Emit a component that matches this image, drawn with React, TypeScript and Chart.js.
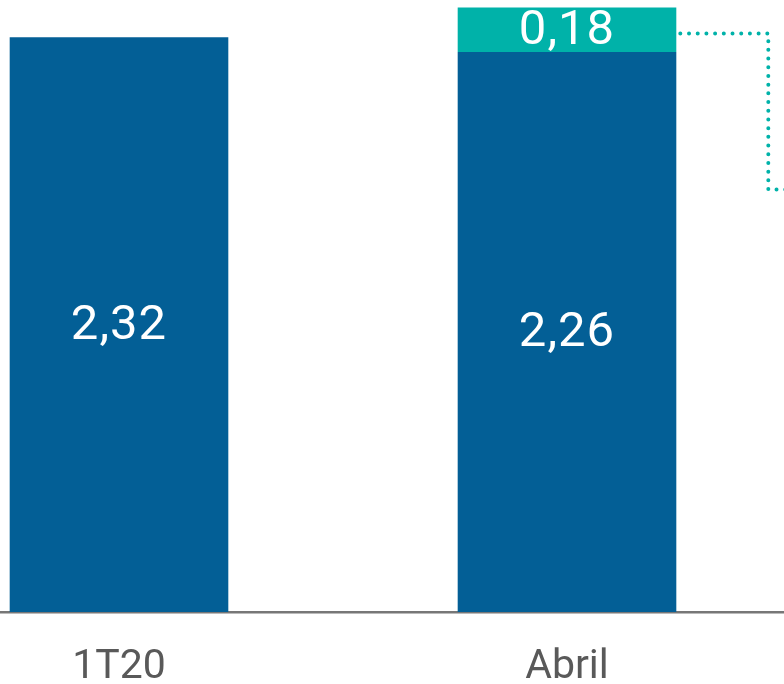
import React, { useEffect, useRef } from "react";
import { Chart, registerables } from "chart.js";

Chart.register(...registerables);

const categories = ["1T20", "Abril"];
const baseValues = [2.32, 2.26];
const topValues = [null, 0.18];
const connectorLevels = [2.335, 1.705];

const BLUE = "#035f96";
const TEAL = "#00b2a9";

const fmt = (v: number) => v.toFixed(2).replace(".", ",");

const labelPlugin = {
  id: "barLabels",
  afterDatasetsDraw(chart: any) {
    const ctx = chart.ctx;
    ctx.save();
    ctx.fillStyle = "#ffffff";
    ctx.font = "49px Roboto";
    ctx.textAlign = "center";
    ctx.textBaseline = "middle";
    try {
      (ctx as any).letterSpacing = "1px";
    } catch (e) {}
    chart.data.datasets.forEach((ds: any, di: number) => {
      const meta = chart.getDatasetMeta(di);
      meta.data.forEach((bar: any, i: number) => {
        const v = ds.data[i];
        if (v === null || v === undefined) return;
        const p = bar.getProps(["x", "y", "base"], true);
        ctx.fillText(fmt(v), p.x, (p.y + p.base) / 2 + 2);
      });
    });
    ctx.restore();
  },
};

const connectorPlugin = {
  id: "connector",
  afterDatasetsDraw(chart: any) {
    const ctx = chart.ctx;
    const meta = chart.getDatasetMeta(1);
    const bar: any = meta.data[1];
    if (!bar) return;
    const p = bar.getProps(["x", "width"], true);
    const y = chart.scales.y;
    const x0 = p.x + p.width / 2 + 4;
    const x1 = x0 + 88;
    const y0 = y.getPixelForValue(connectorLevels[0]);
    const y1 = y.getPixelForValue(connectorLevels[1]);
    ctx.save();
    ctx.strokeStyle = TEAL;
    ctx.lineWidth = 4;
    ctx.lineCap = "round";
    ctx.setLineDash([0, 8.7]);
    ctx.beginPath();
    ctx.moveTo(x0, y0);
    ctx.lineTo(x1, y0);
    ctx.lineTo(x1, y1);
    ctx.lineTo(chart.width, y1);
    ctx.stroke();
    ctx.restore();
  },
};

export default function App() {
  const ref = useRef<HTMLCanvasElement>(null);
  useEffect(() => {
    if (!ref.current) return;
    const chart = new Chart(ref.current, {
      type: "bar",
      data: {
        labels: categories,
        datasets: [
          {
            data: baseValues,
            backgroundColor: BLUE,
            borderWidth: 0,
            barPercentage: 0.488,
            categoryPercentage: 1,
          },
          {
            data: topValues as any,
            backgroundColor: TEAL,
            borderWidth: 0,
            barPercentage: 0.488,
            categoryPercentage: 1,
          },
        ],
      },
      options: {
        animation: false,
        responsive: false,
        maintainAspectRatio: false,
        layout: { padding: 0 },
        plugins: { legend: { display: false }, tooltip: { enabled: false } },
        scales: {
          x: {
            stacked: true,
            grid: { display: false, drawTicks: false },
            border: { display: true, color: "#777777", width: 2.5 },
            ticks: {
              color: "#595959",
              font: { family: "Roboto", size: 41 },
              padding: 31,
            },
            afterFit: (s: any) => {
              s.height = 72;
            },
          },
          y: {
            stacked: true,
            display: false,
            min: 0,
            max: 2.47,
          },
        },
      },
      plugins: [labelPlugin, connectorPlugin],
    });
    return () => chart.destroy();
  }, []);
  return (
    <div
      style={{
        position: "absolute",
        left: 0,
        top: 0,
        width: 784,
        height: 684,
        overflow: "hidden",
        background: "#fff",
      }}
    >
      <canvas
        ref={ref}
        width={896}
        height={684}
        style={{ position: "absolute", left: -105, top: 0, width: 896, height: 684 }}
      />
    </div>
  );
}
